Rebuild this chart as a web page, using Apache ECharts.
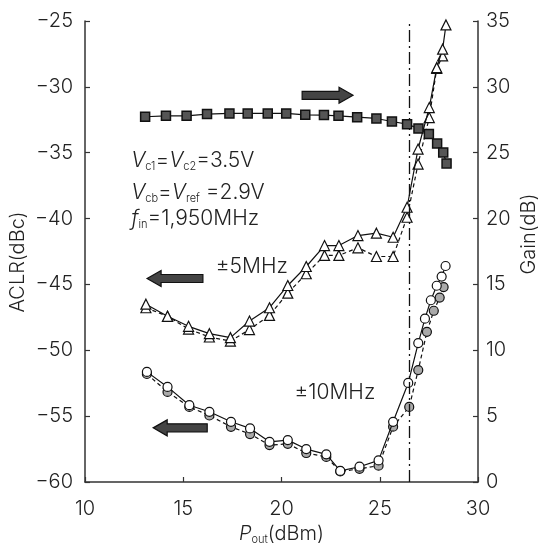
<!DOCTYPE html>
<html>
<head>
<meta charset="utf-8">
<script src="https://cdn.jsdelivr.net/npm/echarts/dist/echarts.min.js"></script>
<style>
  html, body { margin: 0; padding: 0; background: #fff; }
  #chart { width: 545px; height: 545px; }
</style>
</head>
<body>
<div id="chart"></div>
<script>
// Output power (dBm) and gain (dB)
const gainPout = [13.06, 14.12, 15.17, 16.21, 17.35, 18.28, 19.30, 20.24, 21.21, 22.16, 22.9, 23.85, 24.83, 25.62, 26.39, 26.97, 27.5, 27.92, 28.23, 28.4];
const gainDb   = [27.73, 27.8, 27.8, 27.93, 27.98, 27.98, 27.98, 27.98, 27.88, 27.86, 27.8, 27.7, 27.6, 27.37, 27.17, 26.84, 26.42, 25.7, 25.02, 24.19];

// ACLR at +/-5 MHz offset (upper: solid, lower: dashed)
const aclr5Pout  = [13.1, 14.2, 15.27, 16.33, 17.4, 18.37, 19.39, 20.32, 21.26, 22.19, 22.92, 23.89, 24.83, 25.68, 26.39, 26.95, 27.52, 27.9, 28.2, 28.37];
const aclr5Upper = [-46.5, -47.42, -48.18, -48.74, -49.04, -47.78, -46.77, -45.08, -43.64, -42.05, -42.05, -41.29, -41.11, -41.42, -39.14, -34.72, -31.57, -28.54, -27.14, -25.3];
const aclr5PoutL = [13.1, 14.2, 15.27, 16.33, 17.4, 18.37, 19.39, 20.32, 21.26, 22.19, 22.92, 23.89, 24.83, 25.68, 26.39, 26.95, 27.52, 27.9, 28.2];
const aclr5Lower = [-46.77, -47.42, -48.39, -48.99, -49.3, -48.43, -47.35, -45.66, -44.19, -42.8, -42.8, -42.22, -42.88, -42.88, -39.9, -35.86, -32.33, -28.6, -27.65];

// ACLR at +/-10 MHz offset (upper: solid, lower: dashed)
const aclr10Pout  = [13.15, 14.2, 15.31, 16.33, 17.43, 18.4, 19.39, 20.32, 21.26, 22.28, 22.99, 23.97, 24.94, 25.68, 26.45, 26.96, 27.3, 27.6, 27.9, 28.15, 28.35];
const aclr10Upper = [-51.64, -52.78, -54.17, -54.67, -55.43, -55.93, -56.95, -56.82, -57.5, -57.9, -59.16, -58.84, -58.36, -55.43, -52.48, -49.45, -47.6, -46.2, -45.1, -44.4, -43.6];
const aclr10PoutL = [13.15, 14.2, 15.31, 16.33, 17.43, 18.4, 19.39, 20.32, 21.26, 22.28, 22.99, 23.97, 24.94, 25.68, 26.5, 26.96, 27.4, 27.75, 28.05, 28.25];
const aclr10Lower = [-51.8, -53.16, -54.3, -54.95, -55.81, -56.36, -57.2, -57.1, -57.8, -58.1, -59.2, -59.0, -58.76, -55.8, -54.3, -51.5, -48.6, -47.0, -46.0, -45.2];

// Saturation marker (dBm)
const satPout = 26.5;

// Axis ticks
const poutTicks = [10, 15, 20, 25, 30];
const aclrTicks = [-60, -55, -50, -45, -40, -35, -30, -25];
const gainTicks = [0, 5, 10, 15, 20, 25, 30, 35];

const FONT = 'Inter, "DejaVu Sans", sans-serif';
const WEIGHT = 300;
const INK = '#222';

const zip = (xs, ys) => xs.map((x, i) => [x, ys[i]]);
const fmtMinus = v => (v < 0 ? '\u2212' + Math.abs(v) : String(v));

const chart = echarts.init(document.getElementById('chart'), null, { renderer: 'canvas' });

const axisCommon = {
  axisLine: { show: true, lineStyle: { color: '#333', width: 1.5 } },
  axisTick: { show: true, inside: true, length: 5, lineStyle: { color: '#333', width: 1.2 } },
  splitLine: { show: false },
  axisLabel: { color: INK, fontFamily: FONT, fontWeight: WEIGHT, fontSize: 20 }
};

const txt = (size, extra) => ({ fontFamily: FONT, fontWeight: WEIGHT, fontSize: size, color: INK, ...extra });

const option = {
  animation: false,
  backgroundColor: '#fff',
  grid: { left: 85, right: 67, top: 21, bottom: 63, containLabel: false, outerBoundsMode: 'none' },
  xAxis: {
    type: 'value',
    min: poutTicks[0], max: poutTicks[poutTicks.length - 1], interval: 5,
    ...axisCommon,
    axisLabel: { ...axisCommon.axisLabel, margin: 17 },
    name: '{i|P}{s|out}{n|(dBm)}',
    nameLocation: 'middle',
    nameGap: 40,
    nameTextStyle: {
      rich: {
        n: txt(20, { lineHeight: 22 }),
        i: txt(20, { fontStyle: 'italic', lineHeight: 22 }),
        s: txt(11, { lineHeight: 12, verticalAlign: 'bottom' })
      }
    }
  },
  yAxis: [
    {
      type: 'value', position: 'left',
      min: aclrTicks[0], max: aclrTicks[aclrTicks.length - 1], interval: 5,
      ...axisCommon,
      axisLabel: { ...axisCommon.axisLabel, margin: 12, formatter: fmtMinus }
    },
    {
      type: 'value', position: 'right',
      min: gainTicks[0], max: gainTicks[gainTicks.length - 1], interval: 5,
      ...axisCommon,
      axisLabel: { ...axisCommon.axisLabel, margin: 8 }
    }
  ],
  series: [
    {
      name: 'Gain', type: 'line', yAxisIndex: 1,
      data: zip(gainPout, gainDb),
      symbol: 'rect', symbolSize: 9,
      lineStyle: { color: '#111', width: 1.2 },
      itemStyle: { color: '#555', borderColor: '#111', borderWidth: 1.5 },
      z: 5
    },
    {
      name: 'ACLR5 upper', type: 'line', yAxisIndex: 0,
      data: zip(aclr5Pout, aclr5Upper),
      symbol: 'triangle', symbolSize: 10,
      lineStyle: { color: '#111', width: 1.2 },
      itemStyle: { color: '#fff', borderColor: '#111', borderWidth: 1.2 },
      markLine: {
        silent: true, symbol: 'none', label: { show: false },
        lineStyle: { color: '#111', width: 1.3, type: [12, 4, 2, 4] },
        data: [{ xAxis: satPout }]
      },
      z: 4
    },
    {
      name: 'ACLR5 lower', type: 'line', yAxisIndex: 0,
      data: zip(aclr5PoutL, aclr5Lower),
      symbol: 'triangle', symbolSize: 10,
      lineStyle: { color: '#111', width: 1.2, type: [4, 3] },
      itemStyle: { color: '#fff', borderColor: '#111', borderWidth: 1.2 },
      z: 3
    },
    {
      name: 'ACLR10 upper', type: 'line', yAxisIndex: 0,
      data: zip(aclr10Pout, aclr10Upper),
      symbol: 'circle', symbolSize: 9,
      lineStyle: { color: '#111', width: 1.2 },
      itemStyle: { color: '#fff', borderColor: '#111', borderWidth: 1.2 },
      z: 4
    },
    {
      name: 'ACLR10 lower', type: 'line', yAxisIndex: 0,
      data: zip(aclr10PoutL, aclr10Lower),
      symbol: 'circle', symbolSize: 9,
      lineStyle: { color: '#111', width: 1.2, type: [4, 3] },
      itemStyle: { color: '#aaa', borderColor: '#111', borderWidth: 1.2 },
      z: 3
    }
  ]
};

chart.setOption(option);

// Annotations placed in data coordinates (Pout, ACLR)
const px = (x, y) => chart.convertToPixel({ xAxisIndex: 0, yAxisIndex: 0 }, [x, y]);

function arrow(x0, x1, y, dir) {
  const a = px(x0, y), b = px(x1, y);
  const cy = a[1];
  const body = 4, head = 8, headLen = 14;
  let pts;
  if (dir > 0) {
    const xl = a[0], xr = b[0], xh = xr - headLen;
    pts = [[xl, cy - body], [xh, cy - body], [xh, cy - head], [xr, cy], [xh, cy + head], [xh, cy + body], [xl, cy + body]];
  } else {
    const xl = a[0], xr = b[0], xh = xl + headLen;
    pts = [[xr, cy - body], [xh, cy - body], [xh, cy - head], [xl, cy], [xh, cy + head], [xh, cy + body], [xr, cy + body]];
  }
  return { type: 'polygon', shape: { points: pts }, style: { fill: '#444', stroke: '#111', lineWidth: 1.2 }, z: 10 };
}

const gtxt = (size, extra) => ({ fontFamily: FONT, fontWeight: WEIGHT, fontSize: size, fill: INK, ...extra });
const richCond = {
  n: gtxt(21, { lineHeight: 24 }),
  i: gtxt(21, { fontStyle: 'italic', lineHeight: 24 }),
  s: gtxt(11, { lineHeight: 13, verticalAlign: 'bottom' })
};

function label(x, y, text) {
  const p = px(x, y);
  return {
    type: 'text', x: p[0], y: p[1], z: 10,
    style: { text, rich: richCond, ...gtxt(21), verticalAlign: 'middle', align: 'left' }
  };
}

// Rotated axis titles (read bottom to top)
function axisTitle(x, y, text) {
  return {
    type: 'text', x, y, rotation: Math.PI / 2, z: 10,
    style: { text, ...gtxt(20), align: 'center', verticalAlign: 'middle' }
  };
}

chart.setOption({
  graphic: [
    arrow(21.05, 23.64, -30.64, 1),
    arrow(13.16, 16.0, -44.55, -1),
    arrow(13.47, 16.22, -55.89, -1),
    label(12.35, -35.6, '{i|V}{s|c1}{n|=}{i|V}{s|c2}{n|=3.5V}'),
    label(12.35, -38.0, '{i|V}{s|cb}{n|=}{i|V}{s|ref}{n| =2.9V}'),
    label(12.35, -40.0, '{i|f}{s|in}{n|=1,950MHz}'),
    label(16.66, -43.69, '{n|\u00b15MHz}'),
    label(20.66, -53.23, '{n|\u00b110MHz}'),
    axisTitle(18, 262, 'ACLR(dBc)'),
    axisTitle(529, 234, 'Gain(dB)')
  ]
});
</script>
</body>
</html>
